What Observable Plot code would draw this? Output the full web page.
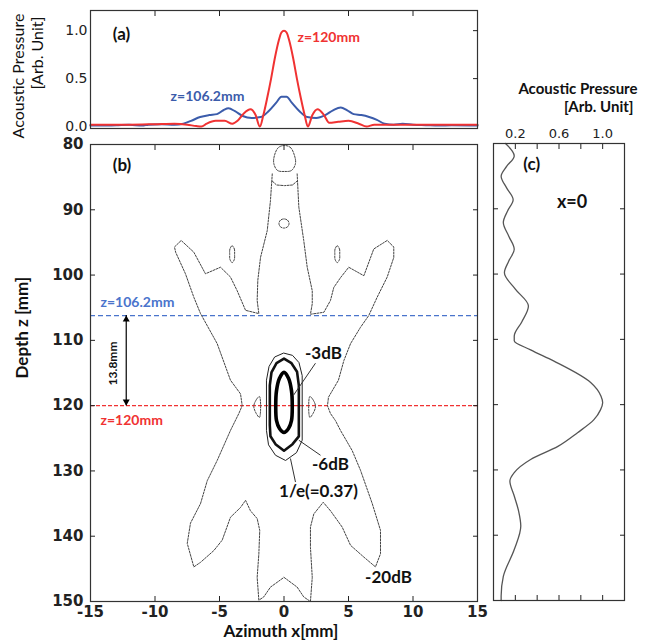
<!DOCTYPE html>
<html>
<head>
<meta charset="utf-8">
<script src="https://cdn.jsdelivr.net/npm/d3@7"></script>
<script src="https://cdn.jsdelivr.net/npm/@observablehq/plot@0.6"></script>
<style>
  body { margin: 0; background: #fff; }
  #wrap { position: relative; width: 648px; height: 644px; overflow: hidden; }
  #wrap > svg { position: absolute; overflow: visible; }
  .vlabel { position: absolute; transform: translate(-50%, -50%) rotate(-90deg); white-space: nowrap;
            font-family: Lato, sans-serif; font-size: 16px; color: #111; line-height: 1; }
</style>
</head>
<body>
<div id="wrap"></div>
<script>
// ---------- Panel (a): lateral profiles ----------
const azRed = [-15,-12,-10,-8.5,-7.5,-6.8,-6.4,-6.0,-5.3,-4.6,-4.0,-3.6,-3.1,-2.6,-2.2,-1.87,-1.6,-1.3,-1.0,-0.7,-0.4,-0.2,0,0.2,0.4,0.7,1.0,1.3,1.6,1.85,2.2,2.6,3.1,3.5,4.2,5.0,5.8,6.4,7.0,8.5,10,12,15];
const pRed  = [0.02,0.02,0.025,0.03,0.02,0.005,0,0.03,0.06,0.06,0.03,0.06,0.14,0.18,0.12,0,0.12,0.3,0.5,0.72,0.9,0.98,1.0,0.98,0.9,0.72,0.5,0.3,0.12,0,0.12,0.18,0.12,0.04,0.05,0.06,0.03,0,0.02,0.02,0.02,0.02,0.02];
const azBlue = [-15,-13,-12,-11,-10.5,-9.5,-8.5,-7.8,-7.2,-6.5,-5.8,-5.2,-4.7,-4.3,-3.8,-3.2,-2.5,-1.8,-1.2,-0.6,-0.2,0,0.2,0.6,1.2,1.8,2.5,3.2,3.8,4.4,4.9,5.4,6.0,6.6,7.2,7.8,8.5,9.2,10,11,12,13,15];
const pBlue  = [0.01,0.015,0.02,0.01,0.02,0.025,0.02,0.03,0.06,0.1,0.12,0.13,0.17,0.19,0.16,0.11,0.09,0.1,0.16,0.25,0.31,0.31,0.31,0.25,0.16,0.1,0.09,0.12,0.17,0.2,0.17,0.13,0.12,0.1,0.07,0.03,0.02,0.03,0.02,0.015,0.01,0.015,0.01];

// ---------- Panel (c): axial profile at x=0 ----------
const depthC = [80,81.9,83.5,85,86.8,88.6,90.3,92.1,94.2,96.2,98,99.8,102.3,104.9,107.3,109.5,110.2,111.6,113.3,116.6,118.7,119.7,120.8,122.3,124.3,126.4,128.4,130.4,131.7,134,136.3,138.6,142.2,146.3,149.3,150];
const pC     = [0.11,0.19,0.12,0.07,0.12,0.18,0.13,0.09,0.14,0.19,0.14,0.10,0.2,0.32,0.26,0.19,0.19,0.34,0.55,0.89,0.985,1.0,0.98,0.92,0.77,0.59,0.34,0.19,0.15,0.19,0.23,0.25,0.19,0.09,0.07,0.07];

// ---------- Panel (b): contours [azimuth mm, depth mm] ----------
const contour20 = [[-0.91,84.5],[-1.05,88.6],[-1.30,93.2],[-1.82,97.3],[-2.03,100.8],[-2.08,103.9],[-1.95,105.9],
  [-2.98,105.4],[-3.63,102.4],[-4.15,100.3],[-4.92,98.8],[-6.09,99.8],[-6.99,96.5],[-7.97,94.7],[-8.49,95.7],[-8.4,96.5],
  [-7.64,99.8],[-6.99,103.4],[-6.47,105.9],[-5.18,110.5],[-4.15,116.1],[-3.37,118.2],[-3.24,120.0],[-3.50,121.2],
  [-4.15,123.8],[-5.18,128.4],[-5.95,131.5],[-6.47,135.0],[-7.25,138.0],[-7.50,141.1],[-6.99,144.7],[-6.47,144.0],
  [-5.44,142.2],[-4.79,140.6],[-4.15,137.1],[-3.37,135.6],[-2.98,134.5],[-2.60,136.1],[-2.08,137.3],[-1.88,139.1],
  [-1.95,142.7],[-2.08,146.3],[-1.95,149.8],[-1.57,149.3],[-1.05,147.8],[0,146.3],[1.02,147.8],[1.53,149.3],[2.05,150],
  [2.19,146.3],[2.05,141.7],[2.05,138.6],[2.31,136.6],[3.04,134.8],[3.60,136.1],[4.51,138.6],[5.16,141.4],[6.19,143.2],
  [7.09,144.7],[7.48,142.7],[7.48,139.1],[6.84,135.0],[5.93,129.9],[5.29,126.9],[4.38,123.8],[3.99,122.3],[3.60,121.2],
  [3.37,120.0],[3.45,118.7],[4.22,116.1],[4.64,113.1],[5.16,110.5],[5.93,108.0],[6.57,106.2],[7.22,103.4],[8.00,100.3],
  [8.51,97.3],[8.51,95.7],[8.00,94.7],[6.96,96.0],[6.19,100.1],[5.02,98.8],[4.38,100.4],[3.86,101.9],[3.60,103.9],
  [3.09,105.7],[2.05,106.0],[2.19,104.4],[2.19,102.4],[1.80,98.8],[1.53,94.7],[1.15,89.6],[1.02,84.5]];
const contour20Cap = [[-0.91,85.6],[-0.58,86.2],[0.04,86.3],[0.66,86.2],[1.02,85.6]];
const island20Top  = [[0.04,80.15],[0.50,80.46],[0.81,81.68],[0.89,82.91],[0.58,83.98],[0.04,84.13],[-0.50,83.98],[-0.79,82.91],[-0.74,81.68],[-0.43,80.46]];
const island20Dot  = [[0,91.4],[0.28,91.6],[0.39,92.1],[0.28,92.6],[0,92.8],[-0.28,92.6],[-0.39,92.1],[-0.28,91.6]];
const island20EarL = [[-4.02,95.5],[-3.85,96.0],[-3.83,96.8],[-3.85,97.6],[-4.02,98.1],[-4.19,97.6],[-4.21,96.8],[-4.19,96.0]];
const island20EarR = [[4.13,95.5],[4.30,96.0],[4.32,96.8],[4.30,97.6],[4.13,98.1],[3.96,97.6],[3.94,96.8],[3.96,96.0]];
const island20LensL = [[-1.90,118.6],[-2.15,119.1],[-2.34,120.1],[-2.15,121.2],[-1.90,121.8]];
const island20LensR = [[2.0,118.6],[2.25,119.1],[2.44,120.1],[2.25,121.2],[2.0,121.8]];
const contour1e  = [[0,111.96],[0.66,112.3],[1.16,113.4],[1.41,115.4],[1.41,125.3],[0.97,127.2],[0.12,128.4],[-0.66,127.6],[-1.20,126.0],[-1.36,123.8],[-1.36,116.1],[-1.16,114.0],[-0.74,112.6]];
const contour6dB = [[0,112.8],[0.58,113.5],[1.01,114.8],[1.15,116.9],[1.15,124.7],[0.66,125.9],[0,126.9],[-0.66,125.9],[-1.05,124.7],[-1.10,123.0],[-1.10,116.9],[-0.97,114.9],[-0.58,113.5]];
const contour3dB = [[0,114.9],[0.35,115.8],[0.58,117.7],[0.64,120.0],[0.58,122.3],[0.35,123.5],[0,124.1],[-0.35,123.5],[-0.58,122.3],[-0.64,120.0],[-0.58,117.7],[-0.35,115.8]];

// cuts, annotations
const zCutBlue = 106.2, zCutRed = 120;
const arrowX = -12.23;
const contourLabels = ["-3dB", "-6dB", "1/e(=0.37)", "-20dB"];
const contourLabelX = [3.06, 3.6, 2.67, 8.1];
const contourLabelZ = [112.0, 129.0, 133.1, 146.3];
const leaderX1 = [2.44, 1.15, 0.50], leaderZ1 = [113.5, 125.3, 128.1];
const leaderX2 = [0.74, 2.83, 0.89], leaderZ2 = [118.4, 127.6, 131.7];

// ticks
const xTicks = [-15,-10,-5,0,5,10,15];
const xInner = [-10,-5,0,5,10];
const zTicks = [80,90,100,110,120,130,140,150];
const zInner = [90,100,110,120,130,140];
const pTicksA = [0, 0.5, 1.0];
const pInnerA = [0.5, 1.0];
const pTicksC = [0.2, 0.6, 1.0];
const pInnerC = [0.2, 0.4, 0.6, 0.8, 1.0];

// ---------- styles ----------
const RED = "#f03232", BLUE = "#3b5cab", BLUE_DASH = "#4a74cc", FRAME = "#333";
const LBL = "Lato";
const rows = (xs, ys) => xs.map((x, i) => ({x, y: ys[i]}));
const pts = (arr, id) => arr.map(([x, z]) => ({x, z, id}));

const wrap = document.getElementById("wrap");

// ---------- Plot (a) ----------
const plotA = Plot.plot({
  width: 490, height: 140,
  marginLeft: 90, marginRight: 13, marginTop: 10, marginBottom: 12,
  x: {domain: [-15, 15]},
  y: {domain: [-0.02, 1.21]},
  style: {fontFamily: "DejaVu Sans", fontSize: "14px", background: "transparent", color: "#222", overflow: "visible"},
  marks: [
    Plot.line(rows(azBlue, pBlue), {x: "x", y: "y", stroke: BLUE, strokeWidth: 2, curve: "monotone-x"}),
    Plot.line(rows(azRed, pRed), {x: "x", y: "y", stroke: RED, strokeWidth: 2, curve: "monotone-x"}),
    Plot.frame({stroke: FRAME, strokeWidth: 1.2}),
    Plot.axisY(pTicksA, {anchor: "left", tickSize: 0, tickPadding: 3, tickFormat: d => d.toFixed(1), label: null, fontSize: 14}),
    Plot.axisY(pInnerA, {anchor: "right", tickSize: 5, dx: -5, fill: "none", label: null}),
    Plot.axisX(xInner, {anchor: "top", tickSize: 5, dy: 5, fill: "none", label: null}),
    Plot.text(["(a)"], {x: -12.6, y: 0.96, fontFamily: LBL, fontWeight: "bold", fontSize: 17, fill: "#111"}),
    Plot.text(["z=120mm"], {x: 1.05, y: 0.93, textAnchor: "start", fontFamily: LBL, fontWeight: "bold", fontSize: 14, fill: RED}),
    Plot.text(["z=106.2mm"], {x: -5.93, y: 0.31, fontFamily: LBL, fontWeight: "bold", fontSize: 14, fill: BLUE})
  ]
});
plotA.style.left = "0px"; plotA.style.top = "0px";
wrap.appendChild(plotA);

// y-axis title of panel (a), two rotated lines
const yTitleA = ["Acoustic Pressure", "[Arb. Unit]"];
[[18, 76], [37, 53]].forEach(([left, top], i) => {
  const d = document.createElement("div");
  d.className = "vlabel";
  d.textContent = yTitleA[i];
  d.style.left = left + "px"; d.style.top = top + "px";
  wrap.appendChild(d);
});

// ---------- Plot (b) ----------
const islandRows = [
  ...pts(island20Top, "top"), ...pts(island20Dot, "dot"),
  ...pts(island20EarL, "earL"), ...pts(island20EarR, "earR"),
  ...pts(island20LensL, "lensL"), ...pts(island20LensR, "lensR")
];
const dash20 = {stroke: "#444", strokeWidth: 1, strokeDasharray: "2,1.3"};
const plotB = Plot.plot({
  width: 490, height: 504,
  marginLeft: 90, marginRight: 13, marginTop: 4, marginBottom: 43,
  x: {domain: [-15, 15]},
  y: {domain: [80, 150], reverse: true},
  style: {fontFamily: "DejaVu Sans", fontSize: "15px", background: "transparent", color: "#222", overflow: "visible"},
  marks: [
    Plot.ruleY([zCutBlue], {stroke: BLUE_DASH, strokeWidth: 1.2, strokeDasharray: "5,3"}),
    Plot.ruleY([zCutRed], {stroke: RED, strokeWidth: 1.1, strokeDasharray: "4,2"}),
    Plot.line(pts(contour20, "outer"), {x: "x", y: "z", ...dash20}),
    Plot.line(pts(contour20Cap, "cap"), {x: "x", y: "z", ...dash20}),
    Plot.line(islandRows, {x: "x", y: "z", z: "id", curve: "catmull-rom-closed", ...dash20}),
    Plot.line(pts(contour1e, "e"), {x: "x", y: "z", curve: "linear-closed", stroke: "#222", strokeWidth: 1}),
    Plot.line(pts(contour6dB, "6"), {x: "x", y: "z", curve: "linear-closed", stroke: "#111", strokeWidth: 2.6}),
    Plot.line(pts(contour3dB, "3"), {x: "x", y: "z", curve: "catmull-rom-closed", stroke: "#000", strokeWidth: 3.6}),
    Plot.link(leaderX1.map((x, i) => i), {x1: i => leaderX1[i], y1: i => leaderZ1[i], x2: i => leaderX2[i], y2: i => leaderZ2[i], stroke: "#333", strokeWidth: 1}),
    Plot.ruleX([arrowX], {y1: zCutBlue, y2: zCutRed, stroke: "#000", strokeWidth: 1.2}),
    Plot.dot([arrowX], {x: d => d, y: zCutBlue, symbol: "triangle", r: 2.6, dy: 4, fill: "#000", stroke: null}),
    Plot.dot([arrowX], {x: d => d, y: zCutRed, symbol: "triangle", r: 2.6, dy: -4, rotate: 180, fill: "#000", stroke: null}),
    Plot.frame({stroke: FRAME, strokeWidth: 1.2}),
    Plot.axisY(zTicks, {anchor: "left", tickSize: 0, tickPadding: 7, label: null, fontWeight: "bold", fontSize: 15}),
    Plot.axisY(zInner, {anchor: "left", tickSize: 5, dx: 5, fill: "none", label: null}),
    Plot.axisY(zInner, {anchor: "right", tickSize: 5, dx: -5, fill: "none", label: null}),
    Plot.axisX(xTicks, {anchor: "bottom", tickSize: 0, tickPadding: 5, tickFormat: d => String(d), label: null, fontWeight: "bold", fontSize: 15}),
    Plot.axisX(xInner, {anchor: "top", tickSize: 5, dy: 5, fill: "none", label: null}),
    Plot.axisX(xInner, {anchor: "bottom", tickSize: 5, dy: -5, fill: "none", label: null}),
    Plot.text(contourLabels, {x: (d, i) => contourLabelX[i], y: (d, i) => contourLabelZ[i], fontFamily: LBL, fontWeight: "bold", fontSize: 17, fill: "#111"}),
    Plot.text(["(b)"], {x: -12.56, y: 83.2, fontFamily: LBL, fontWeight: "bold", fontSize: 17, fill: "#111"}),
    Plot.text(["z=106.2mm"], {x: -14.22, y: 104.28, textAnchor: "start", fontFamily: LBL, fontWeight: "bold", fontSize: 14, fill: BLUE_DASH}),
    Plot.text(["z=120mm"], {x: -14.22, y: 122.27, textAnchor: "start", fontFamily: LBL, fontWeight: "bold", fontSize: 14, fill: RED}),
    Plot.text(["13.8mm"], {x: -13.22, y: 113.54, rotate: -90, fontFamily: LBL, fontWeight: "bold", fontSize: 12, fill: "#111"}),
    Plot.text(["Depth z [mm]"], {frameAnchor: "left", dx: -68, dy: 5.5, rotate: -90, fontFamily: LBL, fontWeight: "bold", fontSize: 17, fill: "#111"}),
    Plot.text(["Azimuth x[mm]"], {frameAnchor: "bottom", dx: -3, dy: 35, fontFamily: LBL, fontWeight: "bold", fontSize: 17, fill: "#111"})
  ]
});
plotB.style.left = "0px"; plotB.style.top = "140px";
wrap.appendChild(plotB);

// ---------- Plot (c) ----------
const plotC = Plot.plot({
  width: 158, height: 584,
  marginLeft: 3, marginRight: 24, marginTop: 83, marginBottom: 44,
  x: {domain: [0, 1.2]},
  y: {domain: [80, 150], reverse: true},
  style: {fontFamily: "DejaVu Sans", fontSize: "13px", background: "transparent", color: "#222", overflow: "visible"},
  marks: [
    Plot.line(rows(pC, depthC), {x: "x", y: "y", stroke: "#555", strokeWidth: 1.3, curve: "monotone-y"}),
    Plot.frame({stroke: FRAME, strokeWidth: 1.2}),
    Plot.axisX(pTicksC, {anchor: "top", tickSize: 0, tickPadding: 6, tickFormat: d => d.toFixed(1), label: null, fontSize: 13}),
    Plot.axisX(pInnerC, {anchor: "top", tickSize: 5, dy: 5, fill: "none", label: null}),
    Plot.axisX(pInnerC, {anchor: "bottom", tickSize: 5, dy: -5, fill: "none", label: null}),
    Plot.axisY(zInner, {anchor: "left", tickSize: 5, dx: 5, fill: "none", label: null}),
    Plot.axisY(zInner, {anchor: "right", tickSize: 5, dx: -5, fill: "none", label: null}),
    Plot.text(["Acoustic Pressure"], {frameAnchor: "top-right", dx: 13, dy: -60, textAnchor: "end", fontFamily: LBL, fontWeight: "bold", fontSize: 15, fill: "#111"}),
    Plot.text(["[Arb. Unit]"], {frameAnchor: "top-right", dx: 9, dy: -42, textAnchor: "end", fontFamily: LBL, fontWeight: "bold", fontSize: 15, fill: "#111"}),
    Plot.text(["(c)"], {x: 0.35, y: 83.2, fontFamily: LBL, fontWeight: "bold", fontSize: 17, fill: "#111"}),
    Plot.text(["x=0"], {x: 0.72, y: 89.0, fontFamily: LBL, fontWeight: "bold", fontSize: 18, fill: "#111"})
  ]
});
plotC.style.left = "490px"; plotC.style.top = "60px";
wrap.appendChild(plotC);
</script>
</body>
</html>
